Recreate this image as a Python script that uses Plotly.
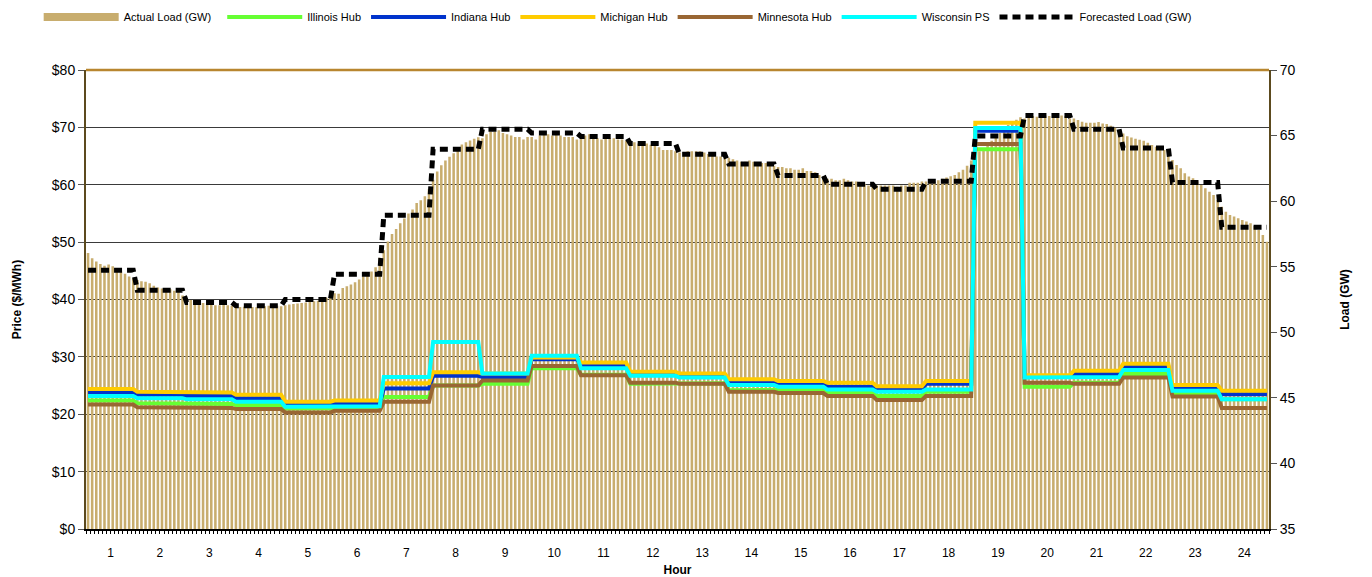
import numpy as np
import plotly.graph_objects as go

# ---------------- data ----------------
hours = [str(h) for h in range(1, 25)]
steps_per_hour = 12  # 5-minute intervals

# Actual load (GW), 5-minute values, 12 per hour
actual_load = [
    56.04, 55.65, 55.39, 55.21, 55.08, 55.17, 55.04, 54.82, 54.64, 54.47, 54.25, 54.12,
    53.99, 53.90, 53.86, 53.73, 53.55, 53.42, 53.33, 53.33, 53.29, 53.16, 53.07, 52.81,
    52.59, 52.46, 52.37, 52.28, 52.24, 52.19, 52.15, 52.06, 52.06, 52.11, 52.06, 52.02,
    51.98, 51.93, 51.95, 51.90, 51.93, 51.90, 51.93, 51.98, 52.02, 52.06, 52.02, 51.98,
    52.06, 52.11, 52.15, 52.19, 52.24, 52.28, 52.33, 52.37, 52.41, 52.50, 52.63, 52.81,
    52.98, 52.94, 53.38, 53.51, 53.64, 53.81, 54.03, 54.25, 54.47, 54.64, 54.95, 55.69,
    56.26, 56.92, 57.49, 57.88, 58.32, 58.67, 59.06, 59.37, 59.85, 60.07, 60.38, 60.90,
    61.64, 62.26, 62.74, 63.09, 63.39, 63.66, 64.01, 64.31, 64.49, 64.62, 64.75, 64.88,
    64.80, 65.10, 65.30, 65.30, 65.40, 65.20, 65.10, 65.00, 64.90, 64.90, 64.70, 64.90,
    64.90, 64.70, 65.00, 65.10, 65.10, 65.00, 65.10, 65.00, 64.90, 64.90, 64.90, 64.70,
    64.80, 65.00, 65.10, 64.90, 64.80, 64.70, 64.80, 64.80, 64.80, 64.70, 64.70, 64.60,
    64.50, 64.50, 64.40, 64.50, 64.40, 64.30, 64.20, 64.10, 63.90, 63.90, 63.90, 63.80,
    63.70, 63.70, 63.80, 63.80, 63.80, 63.80, 63.70, 63.60, 63.50, 63.40, 63.40, 63.40,
    63.30, 63.20, 63.10, 63.00, 63.00, 63.10, 63.00, 62.90, 62.90, 62.90, 62.80, 62.70,
    62.60, 62.60, 62.50, 62.50, 62.40, 62.40, 62.50, 62.30, 62.30, 62.20, 62.00, 61.90,
    61.70, 61.70, 61.60, 61.60, 61.70, 61.60, 61.50, 61.50, 61.40, 61.30, 61.20, 61.20,
    61.20, 61.20, 61.20, 61.20, 61.20, 61.10, 61.20, 61.20, 61.40, 61.40, 61.40, 61.50,
    61.50, 61.50, 61.50, 61.60, 61.70, 61.80, 61.90, 62.00, 62.20, 62.40, 62.70, 63.10,
    63.60, 63.80, 64.00, 64.30, 64.60, 64.90, 65.20, 65.50, 65.80, 66.00, 66.20, 66.40,
    66.31, 66.44, 66.49, 66.44, 66.49, 66.54, 66.49, 66.44, 66.49, 66.54, 66.49, 66.31,
    66.31, 66.18, 66.06, 65.98, 65.98, 65.98, 66.03, 65.93, 65.88, 65.75, 65.60, 65.40,
    65.15, 64.95, 64.85, 64.75, 64.68, 64.61, 64.46, 64.28, 64.15, 64.03, 63.90, 63.60,
    63.14, 62.76, 62.50, 62.12, 61.87, 61.74, 61.49, 61.23, 60.98, 60.72, 60.47, 60.09,
    59.58, 59.20, 58.94, 58.82, 58.69, 58.56, 58.44, 58.31, 58.10, 57.80, 57.42, 56.91,
]

# Hourly values
forecast_load = [54.73, 53.20, 52.28, 52.02, 52.50, 54.43, 58.93, 63.96, 65.49, 65.19, 64.93, 64.40,
                 63.57, 62.83, 61.95, 61.29, 60.90, 61.51, 64.97, 66.54, 65.49, 64.05, 61.43, 58.01]

illinois = [22.4, 21.9, 21.8, 21.6, 21.0, 21.1, 23.0, 25.0, 25.3, 28.0, 26.9, 25.3,
            25.4, 24.2, 24.3, 23.8, 23.2, 23.9, 66.2, 24.8, 25.5, 27.0, 23.7, 22.6]
indiana = [23.8, 23.4, 23.2, 22.8, 21.8, 21.8, 24.5, 26.7, 26.5, 29.6, 28.6, 27.0,
           26.8, 25.5, 25.4, 24.8, 24.3, 25.3, 69.4, 26.6, 27.0, 28.3, 24.5, 23.5]
michigan = [24.4, 23.9, 23.8, 23.4, 22.2, 22.4, 25.4, 27.3, 27.1, 29.9, 29.0, 27.4,
            27.1, 26.1, 25.8, 25.5, 24.9, 25.8, 70.8, 26.8, 27.6, 28.8, 25.1, 24.1]
minnesota = [21.7, 21.2, 21.1, 20.9, 20.3, 20.6, 22.2, 25.0, 25.9, 28.4, 26.8, 25.5,
             25.3, 23.9, 23.7, 23.2, 22.5, 23.2, 67.1, 25.5, 25.3, 26.4, 23.1, 21.1]
wisconsin = [23.2, 22.8, 22.6, 22.2, 21.3, 21.4, 26.5, 32.6, 27.1, 30.2, 28.0, 26.7,
             26.4, 25.1, 24.8, 24.3, 23.9, 24.3, 69.9, 26.4, 26.5, 27.7, 24.1, 22.6]

price_series = [
    ("Illinois Hub", illinois, "#66FF33"),
    ("Indiana Hub", indiana, "#0033CC"),
    ("Michigan Hub", michigan, "#FFCC00"),
    ("Minnesota Hub", minnesota, "#996633"),
    ("Wisconsin PS", wisconsin, "#00FFFF"),
]

# ---------------- figure ----------------
n = len(actual_load)
x = list(range(n))


def per_interval(hourly):
    return list(np.repeat(hourly, steps_per_hour))


LOAD_COLOR = "#C8AD6E"
FONT = "Liberation Sans, Arial, sans-serif"

fig = go.Figure()

fig.add_trace(go.Bar(x=x, y=actual_load, marker=dict(color=LOAD_COLOR, line=dict(width=0)),
                     name="Actual Load (GW)", showlegend=False, yaxis="y"))
# legend swatch for the load bars (drawn as a thick line like the original)
fig.add_trace(go.Scatter(x=[None], y=[None], mode="lines", name="Actual Load (GW)\u00a0\u00a0",
                         line=dict(color=LOAD_COLOR, width=8), yaxis="y"))

for name, vals, color in price_series:
    fig.add_trace(go.Scatter(x=x, y=per_interval(vals), mode="lines", name=name,
                             line=dict(color=color, width=4), yaxis="y2"))

fig.add_trace(go.Scatter(x=x, y=per_interval(forecast_load), mode="lines",
                         name="Forecasted Load (GW)",
                         line=dict(color="black", width=5, dash="8px,5px"), yaxis="y3"))

tickvals = [i * steps_per_hour + (steps_per_hour - 1) / 2 for i in range(len(hours))]

fig.update_layout(
    width=1372, height=577,
    margin=dict(l=86, r=103, t=70, b=48, autoexpand=False),
    paper_bgcolor="white", plot_bgcolor="white",
    font=dict(family=FONT, color="black", size=13),
    bargap=0.38,
    showlegend=True,
    legend=dict(orientation="h", x=-0.04, xanchor="left", y=1.1155, yanchor="middle",
                font=dict(size=11, family=FONT), itemwidth=75, tracegroupgap=0,
                bgcolor="rgba(0,0,0,0)"),
    xaxis=dict(range=[-0.5, n - 0.5], tickmode="array", tickvals=tickvals, ticktext=hours,
               ticks="outside", ticklen=12, tickcolor="rgba(0,0,0,0)", automargin=False,
               showgrid=False, zeroline=False, showline=True, linecolor="black",
               linewidth=1.5, tickfont=dict(size=12),
               minor=dict(ticks="outside", ticklen=3, tickcolor="black", tickmode="linear",
                          tick0=-0.5, dtick=1, showgrid=False),
               title=dict(text="<b>Hour</b>", font=dict(size=12), standoff=6)),
    yaxis=dict(side="right", range=[35, 70], dtick=5, tick0=35, ticks="outside", ticklen=6,
               tickcolor="#555", showgrid=False, zeroline=False, showline=True, automargin=False,
               linecolor="#5C4A1E", linewidth=2, tickfont=dict(size=14),
               title=dict(text="<b>Load (GW)</b>", font=dict(size=12), standoff=46)),
    yaxis2=dict(overlaying="y", side="left", range=[0, 80], dtick=10, tickprefix="$",
                ticks="outside", ticklen=6, tickcolor="#555", showgrid=True, automargin=False,
                gridcolor="#3a3a3a", gridwidth=1, zeroline=False, showline=True,
                linecolor="#5C4A1E", linewidth=2, tickfont=dict(size=14),
                title=dict(text="<b>Price ($/MWh)</b>", font=dict(size=12), standoff=28)),
    yaxis3=dict(overlaying="y", range=[35, 70], visible=False),
    shapes=[dict(type="line", xref="paper", yref="paper", x0=0, x1=1, y0=1, y1=1,
                 line=dict(color="#B8862F", width=2.5))],
)

fig.write_html("out.html", config={"displayModeBar": False},
               post_script="document.body.style.margin='0';")
